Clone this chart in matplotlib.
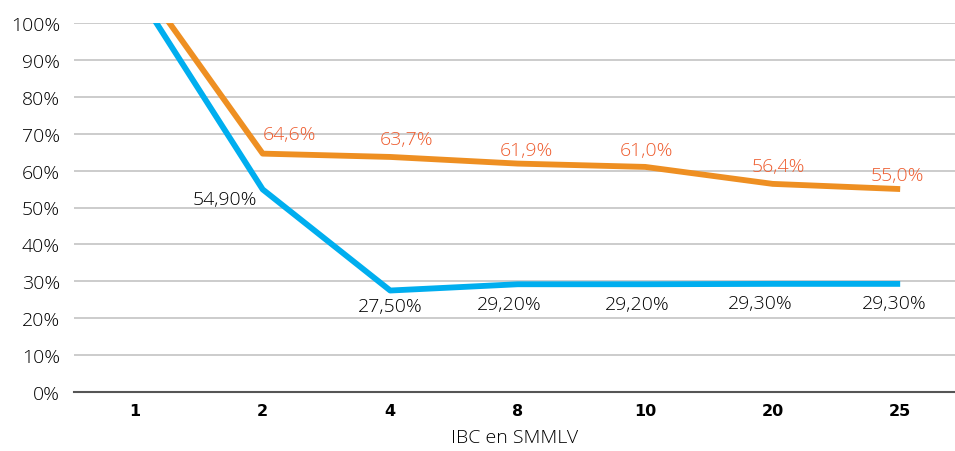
import numpy as np
import matplotlib.pyplot as plt
from matplotlib.ticker import FuncFormatter

# datos
categorias = ["1", "2", "4", "8", "10", "20", "25"]
serie_naranja = [113.0, 64.6, 63.7, 61.9, 61.0, 56.4, 55.0]
serie_azul = [109.0, 54.9, 27.5, 29.2, 29.2, 29.3, 29.3]
etiquetas_naranja = ["", "64,6%", "63,7%", "61,9%", "61,0%", "56,4%", "55,0%"]
etiquetas_azul = ["", "54,90%", "27,50%", "29,20%", "29,20%", "29,30%", "29,30%"]

# desplazamientos de las etiquetas (puntos)
off_naranja = [(0, 0), (19, 14), (12, 13), (6, 10), (1, 12), (4, 13), (-2, 10)]
off_azul = [(0, 0), (-27, -7), (0, -11), (-6, -14), (-6, -14), (-9, -14), (-4, -14)]

fuente = "Open Sans"
c_naranja = "#EE8F22"
c_texto_naranja = "#EE5C2E"
c_azul = "#00AEEF"
c_texto = "#000000"

fig = plt.figure(figsize=(9.55, 4.52), dpi=100)
ax = fig.add_axes([74/955, 1 - 393/452, 1 - 74/955, 369/452])

x = np.arange(len(categorias))
ax.plot(x, serie_naranja, color=c_naranja, linewidth=4.2, solid_capstyle="butt", zorder=3)
ax.plot(x, serie_azul, color=c_azul, linewidth=4.2, solid_capstyle="butt", zorder=3)

for i in range(len(categorias)):
    if etiquetas_naranja[i]:
        ax.annotate(etiquetas_naranja[i], (x[i], serie_naranja[i]), xytext=off_naranja[i],
                    textcoords="offset points", ha="center", va="center",
                    fontsize=14, color=c_texto_naranja, family=fuente, fontweight="light")
    if etiquetas_azul[i]:
        ax.annotate(etiquetas_azul[i], (x[i], serie_azul[i]), xytext=off_azul[i],
                    textcoords="offset points", ha="center", va="center",
                    fontsize=14, color=c_texto, family=fuente, fontweight="light")

ax.set_ylim(0, 100)
ax.set_xlim(-0.48, 6.43)
ax.set_yticks(np.arange(0, 101, 10))
ax.yaxis.set_major_formatter(FuncFormatter(lambda v, p: f"{int(v)}%"))
ax.set_xticks(x)
ax.set_xticklabels(categorias, fontsize=11.5, fontweight="bold", color="#000000")

ax.grid(axis="y", color="#C8C8C8", linewidth=1.3)
ax.set_axisbelow(True)
for s in ["top", "right", "left"]:
    ax.spines[s].set_visible(False)
ax.spines["bottom"].set_color("#555555")
ax.spines["bottom"].set_linewidth(1.5)
ax.spines["bottom"].set_zorder(4)

ax.tick_params(axis="y", length=0, pad=10, labelsize=14, labelcolor=c_texto)
ax.tick_params(axis="x", length=0, pad=8)
for t in ax.get_yticklabels():
    t.set_family(fuente)
    t.set_fontweight("light")

ax.set_xlabel("IBC en SMMLV", fontsize=14, color=c_texto, family=fuente,
              fontweight="light", labelpad=7)

plt.savefig("out.png", dpi=100)
